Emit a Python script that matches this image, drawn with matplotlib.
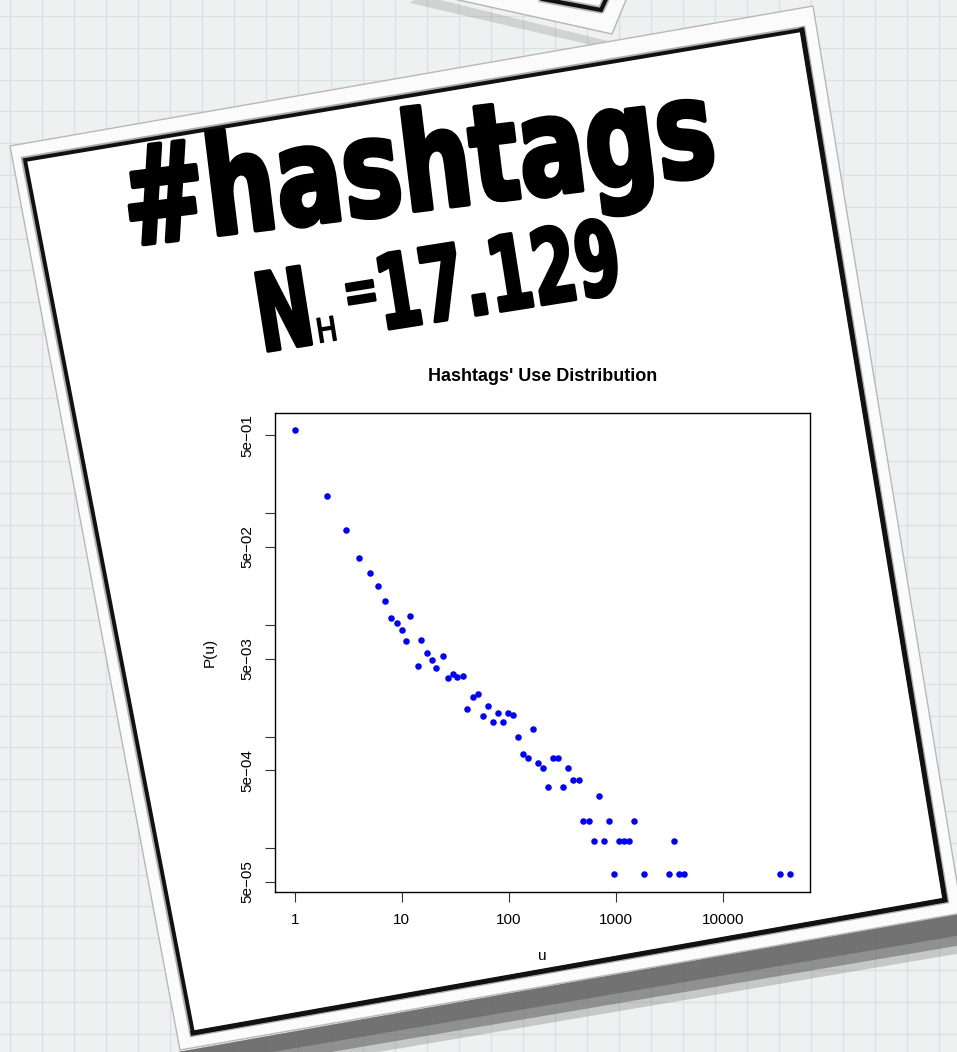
import numpy as np
import matplotlib
matplotlib.use("Agg")
import matplotlib.pyplot as plt
from matplotlib.patches import Polygon
from matplotlib.patheffects import AbstractPathEffect
from matplotlib.transforms import Affine2D

# ---- data: hashtag use distribution ----
N_H = 17129
uses = [1, 2, 3, 4, 5, 6, 7, 8, 9, 10, 11, 12, 14, 15, 17, 19, 21, 24, 27, 30,
        33, 37, 41, 46, 51, 57, 64, 71, 79, 88, 98, 110, 121, 135, 150, 169,
        188, 209, 234, 259, 290, 323, 359, 400, 448, 496, 555, 618, 687, 771,
        859, 955, 1064, 1183, 1328, 1477, 1829, 3146, 3500, 3899, 4336,
        34200, 42400]
hashtag_counts = [9489, 2467, 1223, 687, 500, 385, 279, 196, 178, 153, 123,
                  205, 73, 125, 97, 83, 70, 91, 57, 62, 59, 60, 30, 39, 41,
                  26, 32, 23, 28, 23, 28, 27, 17, 12, 11, 20, 10, 9, 6, 11,
                  11, 6, 9, 7, 7, 3, 3, 2, 5, 2, 3, 1, 2, 2, 2, 3, 1, 1, 2,
                  1, 1, 1, 1]
x_ticks = [1, 10, 100, 1000, 10000]
x_tick_labels = ["1", "10", "100", "1000", "10000"]
y_ticks = [5e-1, 1e-1, 5e-2, 1e-2, 5e-3, 1e-3, 5e-4, 1e-4, 5e-5]
y_tick_labels = ["5e\u221201", "", "5e\u221202", "", "5e\u221203", "",
                 "5e\u221204", "", "5e\u221205"]

W, H = 957, 1052
fig = plt.figure(figsize=(W / 100, H / 100), dpi=100)
fig.patch.set_facecolor("#eff0f0")

# ---- backdrop: graph paper and tilted sheets (pixel coordinates) ----
bg = fig.add_axes([0, 0, 1, 1])
bg.set_xlim(0, W)
bg.set_ylim(H, 0)
bg.axis("off")
for gx in np.arange(10, W, 32.05):
    bg.plot([gx, gx], [0, H], color="#d8e2e4", lw=0.9, zorder=1)
for gy in np.arange(16, H, 31.8):
    bg.plot([0, W], [gy, gy], color="#d8e2e4", lw=0.9, zorder=1)

# sheet peeking in at the top
bg.add_patch(Polygon([(420, -5), (612, 42), (604, 48), (410, 3)], closed=True,
                     facecolor="#6a6a6a", alpha=0.22, lw=0, zorder=2))
bg.add_patch(Polygon([(436, -5), (612, 34), (628, -5)], closed=True,
                     facecolor="#fbfbfb", edgecolor="#b5b5b5", lw=1, zorder=3))
bg.plot([500, 601, 607], [-9, 10, -3], color="#7a7a7a", lw=5.5, alpha=0.5,
        zorder=4)
bg.plot([500, 601, 607], [-9, 10, -3], color="#111111", lw=3.0,
        solid_joinstyle="miter", zorder=4)

# main sheet
outer = [(10, 146), (813, 6), (962, 913), (180, 1050)]
black = [(25, 160), (802, 30), (945, 900), (193, 1033)]
for off, a in [(34, 0.25), (26, 0.45), (16, 0.45)]:
    bg.add_patch(Polygon([(178, 1052), (962, 913), (962, 913 + off + 6),
                          (178, 1052 + off)], closed=True,
                         facecolor="#4f4f4f", alpha=a, lw=0, zorder=5))
bg.add_patch(Polygon(outer, closed=True, facecolor="#fbfbfb",
                     edgecolor="#b8b8b8", lw=1.0, zorder=6))
bg.add_patch(Polygon(black, closed=True, facecolor="white",
                     edgecolor="#7a7a7a", lw=5.5, alpha=0.6, zorder=7))
bg.add_patch(Polygon(black, closed=True, facecolor="white",
                     edgecolor="#111111", lw=2.8, joinstyle="miter", zorder=8))
# heavier right and bottom edges of the frame
bg.plot([black[1][0], black[2][0], black[3][0]],
        [black[1][1], black[2][1], black[3][1]], color="#111111", lw=3.6,
        solid_joinstyle="miter", zorder=8)


class Squeeze(AbstractPathEffect):
    """Narrow rotated glyphs along their own baseline and thicken strokes."""

    def __init__(self, sx, angle, stroke=0.0):
        super().__init__()
        self.sx, self.angle, self.stroke = sx, angle, stroke
        self.text = None

    def draw_path(self, renderer, gc, tpath, affine, rgbFace=None):
        x0, y0 = self.text.get_transform().transform(self.text.get_position())
        t = (Affine2D().translate(-x0, -y0).rotate_deg(-self.angle)
             .scale(self.sx, 1.0).rotate_deg(self.angle).translate(x0, y0))
        gc0 = renderer.new_gc()
        gc0.copy_properties(gc)
        if self.stroke:
            gc0.set_linewidth(self.stroke)
            gc0.set_foreground(rgbFace)
            gc0.set_joinstyle("round")
        renderer.draw_path(gc0, tpath, affine + t, rgbFace)
        gc0.restore()


def marker_text(x, y, s, size, angle, sx, stroke, weight="bold"):
    eff = Squeeze(sx, angle, stroke)
    t = bg.text(x, y, s, fontsize=size, rotation=angle, rotation_mode="anchor",
                ha="left", va="baseline", color="black", family="DejaVu Sans",
                fontweight=weight, path_effects=[eff], zorder=10)
    eff.text = t
    return t


marker_text(128, 246, "#hashtags", 98, 7, 0.73, 3.2)
marker_text(262, 352, "N", 78, 9, 0.62, 2.5)
marker_text(318, 343, "H", 24, 9, 0.85, 1.0, weight="normal")
marker_text(346, 314, "=", 44, 9, 0.7, 1.6)
marker_text(382, 330, "17.129", 74, 9, 0.62, 2.5)

# ---- the R-style scatter plot ----
left, right, top, bottom = 275, 810, 412.7, 892
ax = fig.add_axes([left / W, 1 - bottom / H, (right - left) / W, (bottom - top) / H])
ax.set_zorder(20)
ax.patch.set_alpha(0)

p_u = [c / N_H for c in hashtag_counts]
ax.plot(uses, p_u, linestyle="none", marker="o", ms=4.7, color="#0000ff",
        markeredgewidth=0)
ax.set_xscale("log")
ax.set_yscale("log")
lx, ly = np.log10(uses), np.log10(p_u)
sx_, sy_ = lx.max() - lx.min(), ly.max() - ly.min()
ax.set_xlim(10 ** (lx.min() - 0.04 * sx_), 10 ** (lx.max() + 0.04 * sx_))
ax.set_ylim(10 ** (ly.min() - 0.04 * sy_), 10 ** (ly.max() + 0.04 * sy_))

rfont = "Liberation Sans"
ax.set_xticks(x_ticks)
ax.set_xticklabels(x_tick_labels, family=rfont, fontsize=11)
ax.set_yticks(y_ticks)
ax.set_yticklabels(y_tick_labels, family=rfont, fontsize=11, rotation=90,
                   va="center")
ax.minorticks_off()
ax.tick_params(axis="both", direction="out", length=7, width=0.8,
               color="#333333", pad=8)
for sp in ax.spines.values():
    sp.set_linewidth(1.0)
    sp.set_color("black")

ax.set_title("Hashtags' Use Distribution", family=rfont, fontsize=13,
             fontweight="bold", pad=23)
ax.set_xlabel("u", family=rfont, fontsize=11)
ax.set_ylabel("P(u)", family=rfont, fontsize=11)
ax.xaxis.set_label_coords(0.5, -0.119)
ax.yaxis.set_label_coords(-0.108, 0.5)

fig.savefig("out.png", dpi=100)
